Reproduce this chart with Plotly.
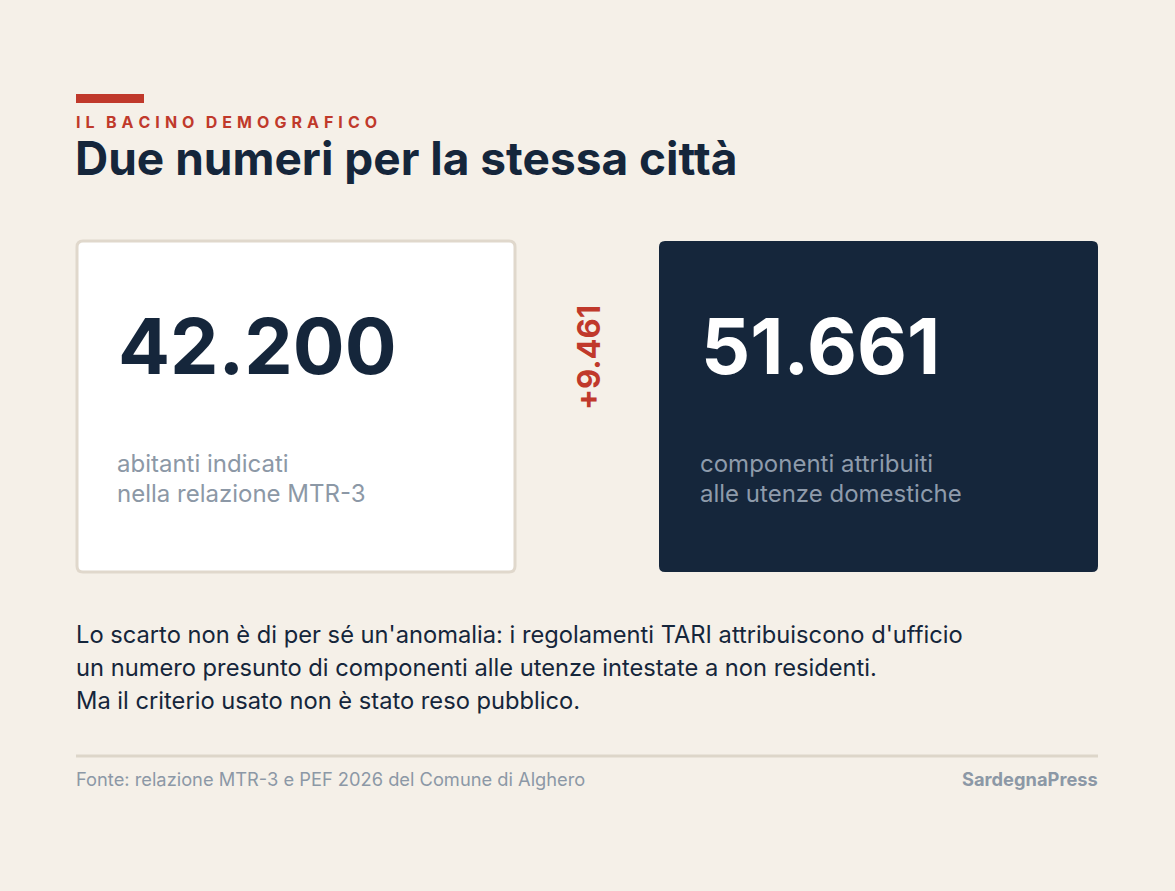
import plotly.graph_objects as go

# ---- data ----
kicker = "IL BACINO DEMOGRAFICO"
title = "Due numeri per la stessa città"
values = [42200, 51661]
value_labels = [["abitanti indicati", "nella relazione MTR-3"],
                ["componenti attribuiti", "alle utenze domestiche"]]
body_lines = ["Lo scarto non è di per sé un'anomalia: i regolamenti TARI attribuiscono d'ufficio",
              "un numero presunto di componenti alle utenze intestate a non residenti.",
              "Ma il criterio usato non è stato reso pubblico."]
source = "Fonte: relazione MTR-3 e PEF 2026 del Comune di Alghero"
brand = "SardegnaPress"

W, H = 1175, 891
BG = "#f5f0e8"
NAVY = "#15263b"
RED = "#c0392b"
GREY = "#8c98a6"
FONT = "Inter"


def fmt(v):
    return f"{v:,}".replace(",", ".")


def rrect(x0, y0, x1, y1, r):
    return (f"M {x0+r},{y0} L {x1-r},{y0} Q {x1},{y0} {x1},{y0+r} "
            f"L {x1},{y1-r} Q {x1},{y1} {x1-r},{y1} L {x0+r},{y1} "
            f"Q {x0},{y1} {x0},{y1-r} L {x0},{y0+r} Q {x0},{y0} {x0+r},{y0} Z")


fig = go.Figure()
fig.add_trace(go.Scatter(x=[0, W], y=[0, H], mode="markers",
                         marker=dict(opacity=0), hoverinfo="skip", showlegend=False))

shapes = [
    dict(type="rect", x0=76, x1=144, y0=94, y1=103, fillcolor=RED, line=dict(width=0)),
    dict(type="path", path=rrect(77, 241, 515, 572, 6), fillcolor="#ffffff",
         line=dict(color="#e0d8cc", width=3)),
    dict(type="path", path=rrect(659, 241, 1098, 572, 6), fillcolor=NAVY,
         line=dict(width=0)),
    dict(type="line", x0=76, x1=1098, y0=756, y1=756, line=dict(color="#ddd6c9", width=3)),
]

ann = []
SP = "\u2009\u2009"
spaced = SP.join(list(kicker)).replace(SP + " " + SP, SP * 2 + "\u200a")
ann.append(dict(x=74, y=122, text=f"<b>{spaced}</b>", xanchor="left", yanchor="middle",
                font=dict(family=FONT, size=16, color=RED)))
ann.append(dict(x=73, y=158, text=f"<b>{title}</b>", xanchor="left", yanchor="middle",
                font=dict(family=FONT, size=46, color=NAVY)))

card_x = [116, 699]
num_colors = [NAVY, "#ffffff"]
lab_colors = ["#8c98a6", "#8e9bab"]
for i, v in enumerate(values):
    ann.append(dict(x=card_x[i], y=346, text=f"<b>{fmt(v)}</b>", xanchor="left", yanchor="middle",
                    font=dict(family=FONT, size=77, color=num_colors[i])))
    for j, line in enumerate(value_labels[i]):
        ann.append(dict(x=card_x[i] - 1, y=463 + j * 30, text=line, xanchor="left",
                        yanchor="middle", font=dict(family=FONT, size=24, color=lab_colors[i])))

delta = values[1] - values[0]
ann.append(dict(x=588, y=358, text=f"<b>+{fmt(delta)}</b>", textangle=-90,
                xanchor="center", yanchor="middle",
                font=dict(family=FONT, size=31, color=RED)))

for j, line in enumerate(body_lines):
    ann.append(dict(x=74, y=634 + j * 33, text=line, xanchor="left", yanchor="middle",
                    font=dict(family=FONT, size=23.7, color=NAVY)))

ann.append(dict(x=74, y=779, text=source, xanchor="left", yanchor="middle",
                font=dict(family=FONT, size=18.3, color=GREY)))
ann.append(dict(x=1100, y=779, text=f"<b>{brand}</b>", xanchor="right", yanchor="middle",
                font=dict(family=FONT, size=18.3, color=GREY)))
for a in ann:
    a.update(xref="x", yref="y", showarrow=False)

fig.update_layout(
    width=W, height=H, margin=dict(l=0, r=0, t=0, b=0),
    paper_bgcolor=BG, plot_bgcolor=BG,
    xaxis=dict(range=[0, W], visible=False, fixedrange=True),
    yaxis=dict(range=[H, 0], visible=False, fixedrange=True),
    shapes=shapes, annotations=ann, showlegend=False,
)

fig.write_html("out.html", config={"displayModeBar": False},
               post_script="document.body.style.margin='0';document.body.style.overflow='hidden';")
